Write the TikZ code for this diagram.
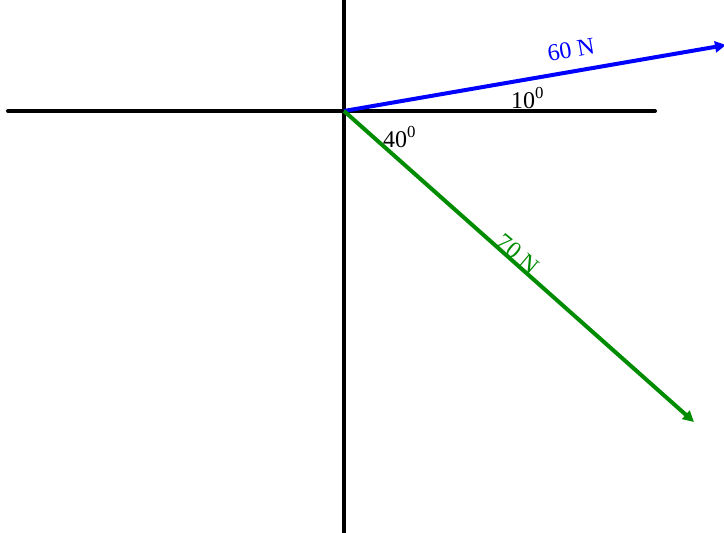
\documentclass[tikz,border=0pt]{standalone}
\usepackage{fontspec}
\setmainfont{Liberation Serif}
\usetikzlibrary{arrows.meta}
\definecolor{fgreen}{RGB}{0,140,0}
\definecolor{fblue}{RGB}{0,0,255}
\tikzset{
  axis/.style={line width=4pt, line cap=round, black},
  force/.style={line width=4pt, -{Triangle[length=11pt,width=11pt]}},
  lbl/.style={font=\fontsize{24}{26}\selectfont, inner sep=0pt},
}
\begin{document}
\begin{tikzpicture}[x=1pt,y=-1pt]
\useasboundingbox (0,0) rectangle (724,533);
\coordinate (O) at (344,111);
\coordinate (L) at (8,111);
\coordinate (R) at (655,111);
\coordinate (T) at (344,-5);
\coordinate (B) at (344,540);
\coordinate (F1) at (726,45);
\coordinate (F2) at (694,422);
\draw[axis] (L) -- (R);
\draw[axis, line cap=butt] (T) -- (B);
\draw[force, fblue] (O) -- (F1);
\draw[force, fgreen] (O) -- (F2);
\node[lbl, fblue, rotate=10] (l60) at (571,50) {60 N};
\node[lbl, fgreen, rotate=-40] (l70) at (518,254) {70 N};
\node[lbl, anchor=base west] (a10) at (511,108) {10$^{\mathrm{0}}$};
\node[lbl, anchor=base west] (a40) at (383,147) {40$^{\mathrm{0}}$};
\end{tikzpicture}
\end{document}
